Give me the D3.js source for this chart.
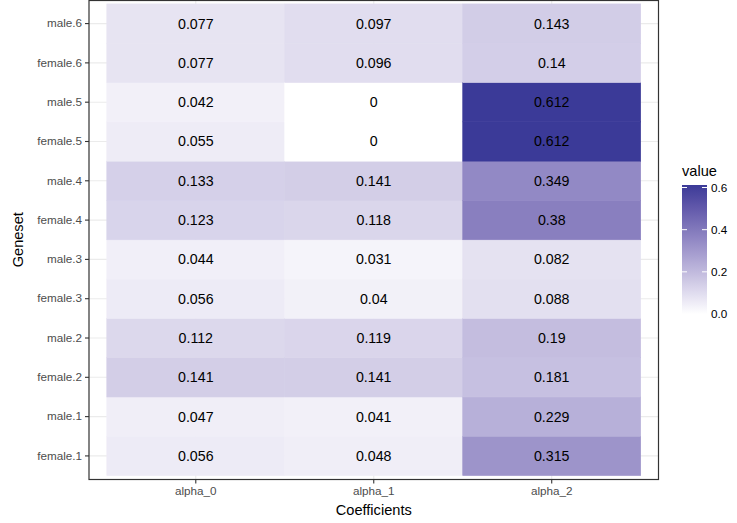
<!DOCTYPE html>
<html>
<head>
<meta charset="utf-8">
<script src="https://cdn.jsdelivr.net/npm/d3@7"></script>
<style>
  body { margin: 0; background: #fff; }
  svg { display: block; font-family: "Liberation Sans", Arial, sans-serif; }
</style>
</head>
<body>
<svg id="chart" width="737" height="523"></svg>
<script>
// Data
const coefficients = ["alpha_0", "alpha_1", "alpha_2"];
const genesets = ["female.1", "male.1", "female.2", "male.2", "female.3", "male.3",
                  "female.4", "male.4", "female.5", "male.5", "female.6", "male.6"];
const alpha0 = [0.056, 0.047, 0.141, 0.112, 0.056, 0.044, 0.123, 0.133, 0.055, 0.042, 0.077, 0.077];
const alpha1 = [0.048, 0.041, 0.141, 0.119, 0.04, 0.031, 0.118, 0.141, 0, 0, 0.096, 0.097];
const alpha2 = [0.315, 0.229, 0.181, 0.19, 0.088, 0.082, 0.38, 0.349, 0.612, 0.612, 0.14, 0.143];
const legendTicks = [0.0, 0.2, 0.4, 0.6];

const seriesByCoef = { alpha_0: alpha0, alpha_1: alpha1, alpha_2: alpha2 };
const cells = [];
coefficients.forEach(c => {
  genesets.forEach((g, i) => cells.push({ coef: c, gene: g, value: seriesByCoef[c][i] }));
});

const svg = d3.select("#chart");
const panel = { left: 89, right: 658.5, top: 0, bottom: 479.5 };

const x = d3.scaleBand().domain(coefficients).range([panel.left, panel.right])
  .paddingInner(0).paddingOuter(0.1);
const y = d3.scaleBand().domain(genesets).range([panel.bottom, panel.top])
  .paddingInner(0).paddingOuter(0.1);

const vmax = d3.max(cells, d => d.value);
const color = d3.scaleLinear().domain([0, vmax]).range(["#ffffff", "#3b3a98"])
  .interpolate(d3.interpolateLab);

// panel background
svg.append("rect").attr("x", panel.left).attr("y", panel.top)
  .attr("width", panel.right - panel.left).attr("height", panel.bottom - panel.top)
  .attr("fill", "#fff");

// grid lines
const grid = svg.append("g");
coefficients.forEach(c => {
  const cx = x(c) + x.bandwidth() / 2;
  grid.append("line").attr("x1", cx).attr("x2", cx).attr("y1", panel.top).attr("y2", panel.bottom)
    .attr("stroke", "#ebebeb").attr("stroke-width", 1.1);
});
genesets.forEach(g => {
  const cy = y(g) + y.bandwidth() / 2;
  grid.append("line").attr("x1", panel.left).attr("x2", panel.right).attr("y1", cy).attr("y2", cy)
    .attr("stroke", "#ebebeb").attr("stroke-width", 1.1);
});

// tiles
svg.append("g").selectAll("rect").data(cells).join("rect")
  .attr("x", d => x(d.coef))
  .attr("y", d => y(d.gene))
  .attr("width", x.bandwidth())
  .attr("height", y.bandwidth())
  .attr("fill", d => color(d.value))
  .attr("stroke", d => color(d.value))
  .attr("stroke-width", 0.6);

// labels
svg.append("g").selectAll("text").data(cells).join("text")
  .attr("x", d => x(d.coef) + x.bandwidth() / 2)
  .attr("y", d => y(d.gene) + y.bandwidth() / 2)
  .attr("dy", "0.35em")
  .attr("text-anchor", "middle")
  .attr("font-size", 14.2)
  .attr("fill", "#000")
  .text(d => String(d.value));

// panel border
svg.append("rect").attr("x", panel.left).attr("y", panel.top + 0.5)
  .attr("width", panel.right - panel.left).attr("height", panel.bottom - panel.top - 0.5)
  .attr("fill", "none").attr("stroke", "#333333").attr("stroke-width", 1.2);

// axes
const xAxis = svg.append("g").attr("transform", `translate(0,${panel.bottom})`)
  .call(d3.axisBottom(x).tickSize(4).tickPadding(3));
const yAxis = svg.append("g").attr("transform", `translate(${panel.left},0)`)
  .call(d3.axisLeft(y).tickSize(4).tickPadding(3));
[xAxis, yAxis].forEach(a => {
  a.select(".domain").remove();
  a.selectAll(".tick line").attr("stroke", "#333333").attr("stroke-width", 1.1);
  a.selectAll(".tick text").attr("fill", "#4d4d4d").attr("font-size", 11.7)
    .attr("font-family", "Liberation Sans, Arial, sans-serif");
});

// axis titles
svg.append("text").attr("x", (panel.left + panel.right) / 2).attr("y", 515)
  .attr("text-anchor", "middle").attr("font-size", 14.6).attr("fill", "#000").text("Coefficients");
svg.append("text").attr("transform", `translate(23,${(panel.top + panel.bottom) / 2}) rotate(-90)`)
  .attr("text-anchor", "middle").attr("font-size", 14.6).attr("fill", "#000").text("Geneset");

// legend
const lg = { x: 682, w: 25, top: 185, bottom: 314 };
const ly = d3.scaleLinear().domain([0, vmax]).range([lg.bottom, lg.top]);
const defs = svg.append("defs");
const grad = defs.append("linearGradient").attr("id", "lgrad")
  .attr("x1", 0).attr("y1", 1).attr("x2", 0).attr("y2", 0);
d3.range(0, 1.0001, 0.05).forEach(t => {
  grad.append("stop").attr("offset", t).attr("stop-color", color(t * vmax));
});
svg.append("rect").attr("x", lg.x).attr("y", lg.top).attr("width", lg.w)
  .attr("height", lg.bottom - lg.top).attr("fill", "url(#lgrad)");
legendTicks.forEach(t => {
  const ty = ly(t);
  svg.append("line").attr("x1", lg.x).attr("x2", lg.x + 5).attr("y1", ty).attr("y2", ty)
    .attr("stroke", "#fff").attr("stroke-width", 1);
  svg.append("line").attr("x1", lg.x + lg.w - 5).attr("x2", lg.x + lg.w).attr("y1", ty).attr("y2", ty)
    .attr("stroke", "#fff").attr("stroke-width", 1);
  svg.append("text").attr("x", lg.x + lg.w + 4).attr("y", ty).attr("dy", "0.35em")
    .attr("font-size", 11.7).attr("fill", "#000").text(t.toFixed(1));
});
svg.append("text").attr("x", lg.x).attr("y", 176).attr("font-size", 14.6).attr("fill", "#000").text("value");
</script>
</body>
</html>
